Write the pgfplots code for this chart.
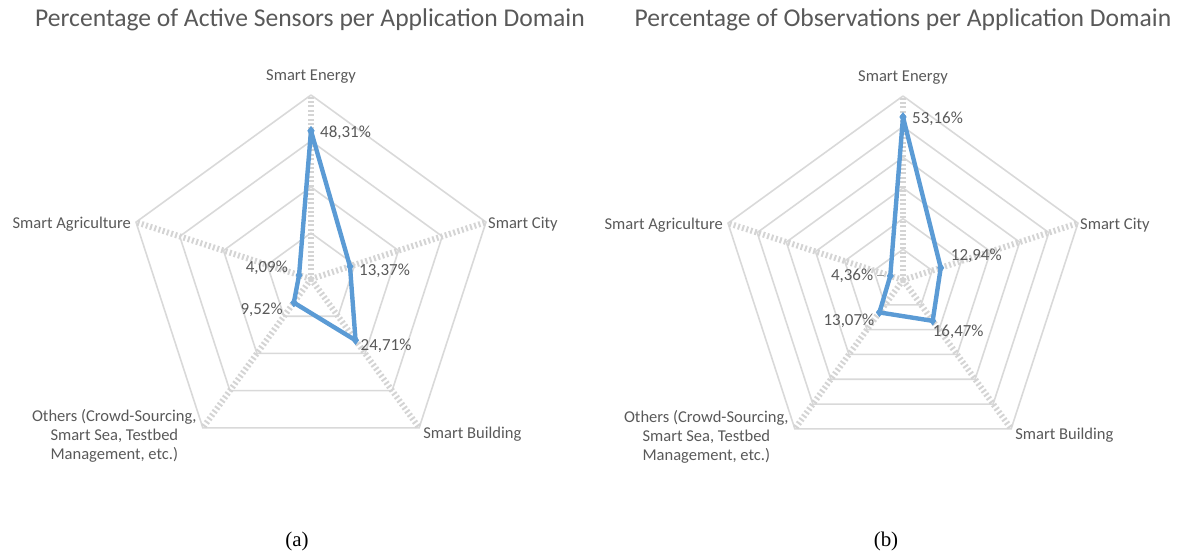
\documentclass[border=0pt]{standalone}
\usepackage{fontspec}
\setmainfont{Carlito}
\newfontfamily\capfont{Liberation Serif}
\usepackage{pgfplots}
\usepgfplotslibrary{polar}
\pgfplotsset{compat=1.18}
\definecolor{ser}{HTML}{5B9BD5}
\definecolor{gridc}{HTML}{D9D9D9}
\definecolor{spk}{HTML}{D4D4D4}
\definecolor{txt}{HTML}{595959}
\pgfplotsset{
  radar/.style={width=368bp,height=368bp,scale only axis,ymin=0,ymax=60,xmin=0,xmax=360,
    hide axis,clip=false,anchor=origin},
  ring/.style={draw=gridc,line width=1.6bp,no marks,forget plot,line join=miter},
  spoke/.style={draw=spk,line width=6bp,dash pattern=on 2bp off 2.4bp,no marks,forget plot},
  series/.style={draw=ser,line width=4.4bp,line join=round,mark=diamond*,mark size=4.2bp,
    mark options={fill=ser,draw=ser,solid,line width=0.6bp}},
}
\tikzset{
  catlab/.style={font=\fontsize{16.6}{19.5}\selectfont,text=txt,inner sep=1bp},
  datlab/.style={font=\fontsize{17}{20}\selectfont,text=txt,inner sep=1bp},
}
\begin{document}
\begin{tikzpicture}
\useasboundingbox (0bp,0bp) rectangle (1179bp,556bp);
% ---------------- (a) ----------------
\begin{polaraxis}[radar, at={(311bp,277bp)}]
\addplot[ring] coordinates {(90,15)(18,15)(306,15)(234,15)(162,15)(90,15)};
\addplot[ring] coordinates {(90,30)(18,30)(306,30)(234,30)(162,30)(90,30)};
\addplot[ring] coordinates {(90,45)(18,45)(306,45)(234,45)(162,45)(90,45)};
\addplot[ring] coordinates {(90,60)(18,60)(306,60)(234,60)(162,60)(90,60)};
\addplot[spoke] coordinates {(90,0)(90,60)};
\addplot[spoke] coordinates {(18,0)(18,60)};
\addplot[spoke] coordinates {(306,0)(306,60)};
\addplot[spoke] coordinates {(234,0)(234,60)};
\addplot[spoke] coordinates {(162,0)(162,60)};
\addplot[series] coordinates {(90,48.31)(18,13.37)(306,24.71)(234,9.52)(162,4.09)(90,48.31)};
\node[catlab,anchor=south,yshift=10bp] at (axis cs:90,60) {Smart Energy};
\node[catlab,anchor=west,xshift=1bp,yshift=-2bp] at (axis cs:18,60) {Smart City};
\node[catlab,anchor=east,xshift=-4bp,yshift=-2bp] at (axis cs:162,60) {Smart Agriculture};
\node[catlab,anchor=west,xshift=3bp,yshift=-6bp] at (axis cs:306,60) {Smart Building};
\node[catlab,anchor=east,align=center,xshift=-5bp,yshift=-8bp] at (axis cs:234,60) {Others (Crowd-Sourcing,\\Smart Sea, Testbed\\Management, etc.)};
\node[datlab,anchor=west,xshift=8bp,yshift=-2bp] at (axis cs:90,48.31) {48,31\%};
\node[datlab,anchor=west,xshift=8bp,yshift=-4bp] at (axis cs:18,13.37) {13,37\%};
\node[datlab,anchor=west,xshift=4bp,yshift=-6bp] at (axis cs:306,24.71) {24,71\%};
\node[datlab,anchor=east,xshift=-10bp,yshift=-7bp] at (axis cs:234,9.52) {9,52\%};
\node[datlab,anchor=east,xshift=-10bp,yshift=7bp] at (axis cs:162,4.09) {4,09\%};
\end{polaraxis}
% ---------------- (b) ----------------
\begin{polaraxis}[radar, at={(903bp,276bp)}]
\addplot[ring] coordinates {(90,10)(18,10)(306,10)(234,10)(162,10)(90,10)};
\addplot[ring] coordinates {(90,20)(18,20)(306,20)(234,20)(162,20)(90,20)};
\addplot[ring] coordinates {(90,30)(18,30)(306,30)(234,30)(162,30)(90,30)};
\addplot[ring] coordinates {(90,40)(18,40)(306,40)(234,40)(162,40)(90,40)};
\addplot[ring] coordinates {(90,50)(18,50)(306,50)(234,50)(162,50)(90,50)};
\addplot[ring] coordinates {(90,60)(18,60)(306,60)(234,60)(162,60)(90,60)};
\addplot[spoke] coordinates {(90,0)(90,60)};
\addplot[spoke] coordinates {(18,0)(18,60)};
\addplot[spoke] coordinates {(306,0)(306,60)};
\addplot[spoke] coordinates {(234,0)(234,60)};
\addplot[spoke] coordinates {(162,0)(162,60)};
\addplot[series] coordinates {(90,53.16)(18,12.94)(306,16.47)(234,13.07)(162,4.36)(90,53.16)};
\node[catlab,anchor=south,yshift=10bp] at (axis cs:90,60) {Smart Energy};
\node[catlab,anchor=west,xshift=1bp,yshift=-2bp] at (axis cs:18,60) {Smart City};
\node[catlab,anchor=east,xshift=-4bp,yshift=-2bp] at (axis cs:162,60) {Smart Agriculture};
\node[catlab,anchor=west,xshift=3bp,yshift=-6bp] at (axis cs:306,60) {Smart Building};
\node[catlab,anchor=east,align=center,xshift=-5bp,yshift=-8bp] at (axis cs:234,60) {Others (Crowd-Sourcing,\\Smart Sea, Testbed\\Management, etc.)};
\node[datlab,anchor=west,xshift=8bp,yshift=-2bp] at (axis cs:90,53.16) {53,16\%};
\node[datlab,anchor=west,xshift=9bp,yshift=12bp] at (axis cs:18,12.94) {12,94\%};
\node[datlab,anchor=west,xshift=-1bp,yshift=-11bp] at (axis cs:306,16.47) {16,47\%};
\node[datlab,anchor=east,xshift=-4bp,yshift=-8bp] at (axis cs:234,13.07) {13,07\%};
\node[datlab,anchor=east,xshift=-16bp,yshift=0bp] at (axis cs:162,4.36) {4,36\%};
\draw[txt!60,line width=0.8bp] (axis cs:162,4.36) ++(-13bp,0) -- ++(7bp,0);
\end{polaraxis}
% titles and captions
\node[font=\fontsize{25.7}{29}\selectfont,text=txt] at (310bp,536bp) {Percentage of Active Sensors per Application Domain};
\node[font=\fontsize{25.7}{29}\selectfont,text=txt] at (903bp,536bp) {Percentage of Observations per Application Domain};
\node[font=\capfont\fontsize{21}{24}\selectfont] at (297bp,15bp) {(a)};
\node[font=\capfont\fontsize{21}{24}\selectfont] at (886bp,15bp) {(b)};
\end{tikzpicture}
\end{document}
